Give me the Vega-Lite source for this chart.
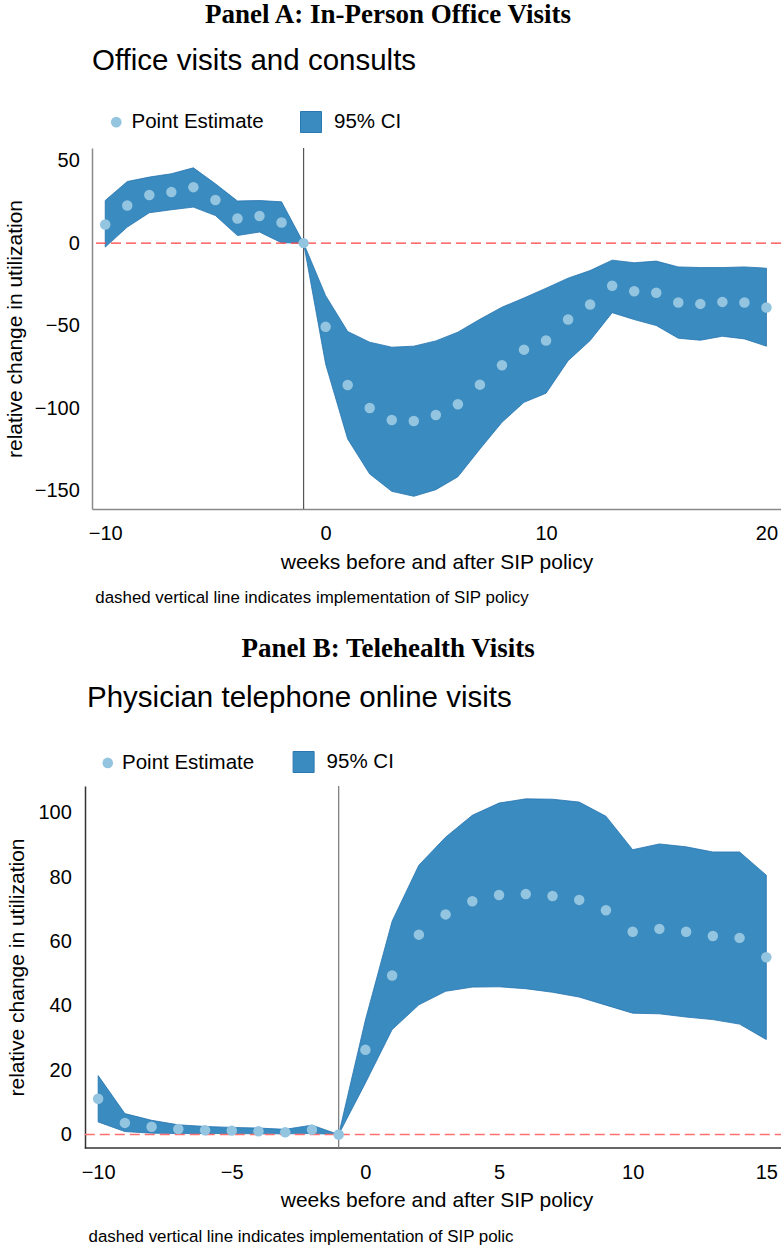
{
  "$schema": "https://vega.github.io/schema/vega-lite/v6.json",
  "padding": {"top": 0, "left": 4, "right": 0, "bottom": 0},
  "background": "white",
  "config": {
    "view": {"stroke": null},
    "font": "Liberation Sans",
    "axis": {"labelFont": "Liberation Sans", "labelFontSize": 20, "labelColor": "#000", "titleFont": "Liberation Sans", "titleFontWeight": "normal", "titleColor": "#000", "titleFontSize": 21, "grid": false, "ticks": false, "domainWidth": 1.5},
    "legend": {"labelFont": "Liberation Sans", "labelFontSize": 20.5, "labelColor": "#000", "padding": 0, "title": null},
    "title": {"font": "Liberation Sans", "fontWeight": "normal", "color": "#000"}
  },
  "datasets": {
    "a": [
      {"w": -10, "est": 11.3, "lo": -2.4, "hi": 25.8},
      {"w": -9, "est": 22.8, "lo": 9.7, "hi": 37.3},
      {"w": -8, "est": 29.1, "lo": 18.4, "hi": 40.0},
      {"w": -7, "est": 30.9, "lo": 20.2, "hi": 42.0},
      {"w": -6, "est": 33.9, "lo": 21.8, "hi": 45.6},
      {"w": -5, "est": 26.1, "lo": 16.7, "hi": 35.9},
      {"w": -4, "est": 14.9, "lo": 4.6, "hi": 25.5},
      {"w": -3, "est": 16.4, "lo": 6.7, "hi": 25.8},
      {"w": -2, "est": 12.5, "lo": 0.2, "hi": 25.0},
      {"w": -1, "est": 0, "lo": 0, "hi": 0},
      {"w": 0, "est": -50.7, "lo": -73.2, "hi": -31.8},
      {"w": 1, "est": -85.9, "lo": -118.6, "hi": -53.5},
      {"w": 2, "est": -99.8, "lo": -139.8, "hi": -60.0},
      {"w": 3, "est": -107.1, "lo": -150.3, "hi": -63.0},
      {"w": 4, "est": -107.7, "lo": -153.3, "hi": -62.4},
      {"w": 5, "est": -104.1, "lo": -149.3, "hi": -59.2},
      {"w": 6, "est": -97.6, "lo": -141.5, "hi": -53.9},
      {"w": 7, "est": -85.7, "lo": -124.7, "hi": -46.1},
      {"w": 8, "est": -74.0, "lo": -108.5, "hi": -38.8},
      {"w": 9, "est": -64.5, "lo": -96.4, "hi": -33.2},
      {"w": 10, "est": -59.0, "lo": -90.9, "hi": -27.3},
      {"w": 11, "est": -46.3, "lo": -71.2, "hi": -21.2},
      {"w": 12, "est": -37.2, "lo": -59.0, "hi": -16.6},
      {"w": 13, "est": -25.8, "lo": -42.1, "hi": -10.3},
      {"w": 14, "est": -29.1, "lo": -46.3, "hi": -11.9},
      {"w": 15, "est": -30.1, "lo": -49.9, "hi": -10.9},
      {"w": 16, "est": -36.0, "lo": -57.6, "hi": -14.4},
      {"w": 17, "est": -36.8, "lo": -58.8, "hi": -14.8},
      {"w": 18, "est": -35.6, "lo": -56.4, "hi": -14.8},
      {"w": 19, "est": -36.0, "lo": -58.0, "hi": -14.4},
      {"w": 20, "est": -39.0, "lo": -62.4, "hi": -15.2}
    ],
    "b": [
      {"w": -10, "est": 11.1, "lo": 3.9, "hi": 18.3},
      {"w": -9, "est": 3.6, "lo": 0.9, "hi": 6.5},
      {"w": -8, "est": 2.4, "lo": 0.4, "hi": 4.4},
      {"w": -7, "est": 1.7, "lo": 0.3, "hi": 3.0},
      {"w": -6, "est": 1.3, "lo": 0.3, "hi": 2.5},
      {"w": -5, "est": 1.2, "lo": 0.3, "hi": 2.2},
      {"w": -4, "est": 1.0, "lo": 0.2, "hi": 2.0},
      {"w": -3, "est": 0.7, "lo": 0.2, "hi": 1.6},
      {"w": -2, "est": 1.5, "lo": 0.3, "hi": 2.9},
      {"w": -1, "est": 0, "lo": 0, "hi": 0},
      {"w": 0, "est": 26.3, "lo": 16.0, "hi": 35.6},
      {"w": 1, "est": 49.4, "lo": 32.6, "hi": 66.3},
      {"w": 2, "est": 62.1, "lo": 40.3, "hi": 83.7},
      {"w": 3, "est": 68.4, "lo": 44.5, "hi": 92.4},
      {"w": 4, "est": 72.5, "lo": 45.8, "hi": 99.2},
      {"w": 5, "est": 74.4, "lo": 45.9, "hi": 103.0},
      {"w": 6, "est": 74.7, "lo": 45.3, "hi": 104.3},
      {"w": 7, "est": 74.1, "lo": 44.2, "hi": 104.2},
      {"w": 8, "est": 72.9, "lo": 42.7, "hi": 103.3},
      {"w": 9, "est": 69.7, "lo": 40.2, "hi": 98.9},
      {"w": 10, "est": 63.0, "lo": 37.7, "hi": 88.5},
      {"w": 11, "est": 63.9, "lo": 37.5, "hi": 90.3},
      {"w": 12, "est": 63.0, "lo": 36.5, "hi": 89.4},
      {"w": 13, "est": 61.7, "lo": 35.7, "hi": 87.8},
      {"w": 14, "est": 61.1, "lo": 34.3, "hi": 87.8},
      {"w": 15, "est": 55.1, "lo": 29.5, "hi": 80.6}
    ]
  },
  "spacing": 28,
  "vconcat": [
    {
      "title": {"text": "Panel A: In-Person Office Visits", "font": "Liberation Serif", "fontSize": 27, "fontWeight": "bold", "anchor": "middle", "offset": 17, "dx": -5},
      "vconcat": [
        {
          "title": {"text": "dashed vertical line indicates implementation of SIP policy", "orient": "bottom", "anchor": "start", "fontSize": 16.9, "dx": 91, "offset": 17},
          "vconcat": [
            {
              "title": {"text": "Office visits and consults", "anchor": "start", "frame": "group", "fontSize": 29.5, "offset": 71},
              "width": 689,
              "height": 361,
              "layer": [
                {
                  "data": {"name": "a"},
                  "mark": {"type": "area", "stroke": "#2474b0", "strokeWidth": 0.8},
                  "encoding": {
                    "x": {"field": "w", "type": "quantitative", "scale": {"domain": [-10.6, 20.66], "nice": false, "zero": false}, "axis": {"values": [-10, 0, 10, 20], "title": "weeks before and after SIP policy", "labelPadding": 14.5, "titlePadding": 8, "domainColor": "#8a8a8a"}},
                    "y": {"field": "lo", "type": "quantitative", "scale": {"domain": [-161, 57.6], "nice": false, "zero": false}, "axis": {"values": [-150, -100, -50, 0, 50], "title": "relative change in utilization", "labelPadding": 12.7, "titlePadding": 9, "domainColor": "#8a8a8a"}},
                    "y2": {"field": "hi"},
                    "fill": {"datum": "95% CI", "type": "nominal", "scale": {"range": ["#3a8bc0"]}, "legend": {"orient": "none", "legendX": 208, "legendY": -37, "direction": "horizontal", "symbolType": "square", "symbolSize": 441, "symbolStrokeColor": "#2a78b2", "symbolStrokeWidth": 1, "labelOffset": 12}}
                  }
                },
                {
                  "data": {"values": [{"v": 0}]},
                  "mark": {"type": "rule", "color": "#ff4040", "strokeWidth": 1.3, "strokeDash": [10, 5]},
                  "encoding": {"y": {"field": "v", "type": "quantitative"}}
                },
                {
                  "data": {"values": [{"v": -1}]},
                  "mark": {"type": "rule", "color": "#555555", "strokeWidth": 1.2},
                  "encoding": {"x": {"field": "v", "type": "quantitative"}}
                },
                {
                  "data": {"name": "a"},
                  "mark": {"type": "point", "filled": true, "size": 110, "opacity": 1},
                  "encoding": {
                    "x": {"field": "w", "type": "quantitative"},
                    "y": {"field": "est", "type": "quantitative"},
                    "color": {"datum": "Point Estimate", "type": "nominal", "scale": {"range": ["#94c5e0"]}, "legend": {"orient": "none", "legendX": 14, "legendY": -36.1, "direction": "horizontal", "symbolType": "circle", "symbolSize": 114, "symbolOpacity": 1, "labelOffset": 5}}
                  }
                }
              ]
            }
          ]
        }
      ]
    },
    {
      "title": {"text": "Panel B: Telehealth Visits", "font": "Liberation Serif", "fontSize": 27, "fontWeight": "bold", "anchor": "middle", "offset": 20, "dx": -6},
      "vconcat": [
        {
          "title": {"text": "dashed vertical line indicates implementation of SIP polic", "orient": "bottom", "anchor": "start", "fontSize": 16.9, "dx": 82, "offset": 19},
          "vconcat": [
            {
              "title": {"text": "Physician telephone online visits", "anchor": "start", "frame": "group", "fontSize": 29.5, "offset": 72, "dx": -5},
              "width": 689,
              "height": 362,
              "layer": [
                {
                  "data": {"name": "b"},
                  "mark": {"type": "area", "stroke": "#2474b0", "strokeWidth": 0.8},
                  "encoding": {
                    "x": {"field": "w", "type": "quantitative", "scale": {"domain": [-10.23, 15.55], "nice": false, "zero": false}, "axis": {"values": [-10, -5, 0, 5, 10, 15], "title": "weeks before and after SIP policy", "labelPadding": 14, "titlePadding": 7, "domain": false}},
                    "y": {"field": "lo", "type": "quantitative", "scale": {"domain": [-4.2, 108.3], "nice": false, "zero": false}, "axis": {"values": [0, 20, 40, 60, 80, 100], "title": "relative change in utilization", "labelPadding": 13.7, "titlePadding": 10.4, "offset": 7, "domainColor": "#333333"}},
                    "y2": {"field": "hi"},
                    "fill": {"datum": "95% CI", "type": "nominal", "scale": {"range": ["#3a8bc0"]}, "legend": {"orient": "none", "legendX": 200.6, "legendY": -35, "direction": "horizontal", "symbolType": "square", "symbolSize": 441, "symbolStrokeColor": "#2a78b2", "symbolStrokeWidth": 1, "labelOffset": 12}}
                  }
                },
                {
                  "data": {"values": [{"v": 0}]},
                  "mark": {"type": "rule", "color": "#333333", "strokeWidth": 1.5},
                  "encoding": {"x": {"datum": -10.5, "type": "quantitative"}, "x2": {"datum": 15.55}, "y": {"datum": -4.2, "type": "quantitative"}}
                },
                {
                  "data": {"values": [{"v": 0}]},
                  "mark": {"type": "rule", "color": "#ff7070", "strokeWidth": 1.3, "strokeDash": [10, 5]},
                  "encoding": {"x": {"datum": -10.5, "type": "quantitative"}, "x2": {"datum": 15.55}, "y": {"field": "v", "type": "quantitative"}}
                },
                {
                  "data": {"values": [{"v": -1}]},
                  "mark": {"type": "rule", "color": "#777777", "strokeWidth": 1.2},
                  "encoding": {"x": {"field": "v", "type": "quantitative"}}
                },
                {
                  "data": {"name": "b"},
                  "mark": {"type": "point", "filled": true, "size": 110, "opacity": 1},
                  "encoding": {
                    "x": {"field": "w", "type": "quantitative"},
                    "y": {"field": "est", "type": "quantitative"},
                    "color": {"datum": "Point Estimate", "type": "nominal", "scale": {"range": ["#94c5e0"]}, "legend": {"orient": "none", "legendX": 5.5, "legendY": -33.3, "direction": "horizontal", "symbolType": "circle", "symbolSize": 114, "symbolOpacity": 1, "labelOffset": 4}}
                  }
                }
              ]
            }
          ]
        }
      ]
    }
  ],
  "resolve": {"scale": {"x": "independent", "y": "independent", "color": "independent", "fill": "independent"}}
}
